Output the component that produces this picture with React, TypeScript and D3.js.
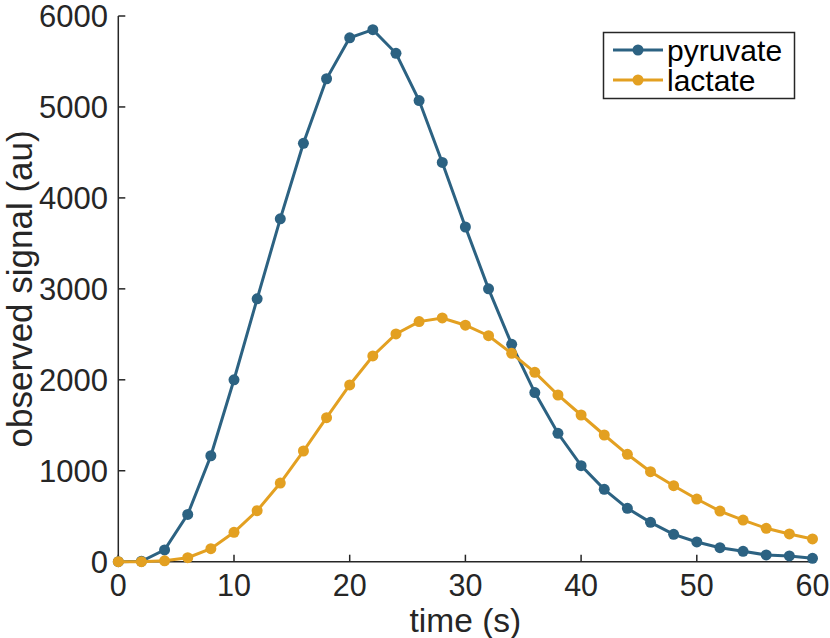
import * as d3 from "d3";

const times = d3.range(0, 61, 2);
const pyruvate = [
  0, 5, 130, 520, 1165, 2000, 2890, 3770, 4600, 5310, 5760, 5850, 5590, 5070, 4390, 3680,
  3000, 2390, 1860, 1412, 1056, 796, 587, 433, 301, 217, 154, 114, 74, 63, 37,
];
const lactate = [
  0, 0, 10, 44, 143, 323, 561, 865, 1217, 1584, 1943, 2262, 2504, 2640, 2680, 2600,
  2485, 2291, 2082, 1833, 1613, 1393, 1181, 990, 836, 689, 557, 458, 367, 305, 250,
];
const xTicks = [0, 10, 20, 30, 40, 50, 60];
const yTicks = [0, 1000, 2000, 3000, 4000, 5000, 6000];

const series = [
  { name: "pyruvate", values: pyruvate, color: "#2c6282" },
  { name: "lactate", values: lactate, color: "#e3a021" },
];

const W = 830;
const H = 638;
const m = { left: 118.3, right: 17.5, top: 16, bottom: 76.3 };
const ink = "#262626";
const font = "'Liberation Sans', Arial, Helvetica, sans-serif";

export default function App() {
  const x = d3.scaleLinear().domain([0, 60]).range([m.left, W - m.right]);
  const y = d3.scaleLinear().domain([0, 6000]).range([H - m.bottom, m.top]);
  const line = d3
    .line<number>()
    .x((_d, i) => x(times[i]))
    .y((d) => y(d));

  const x0 = x(0);
  const y0 = y(0);

  return (
    <svg
      width={W}
      height={H}
      style={{ position: "absolute", left: 0, top: 0, background: "#fff" }}
      fontFamily={font}
    >
      {/* axes */}
      <line x1={x0} x2={x(60)} y1={y0} y2={y0} stroke={ink} strokeWidth={1.5} />
      <line x1={x0} x2={x0} y1={y0} y2={y(6000)} stroke={ink} strokeWidth={1.5} />
      {xTicks.map((t) => (
        <g key={"x" + t}>
          <line x1={x(t)} x2={x(t)} y1={y0} y2={y0 - 7} stroke={ink} strokeWidth={1.5} />
          <text x={x(t)} y={596} fontSize={30.5} fill={ink} textAnchor="middle">
            {t}
          </text>
        </g>
      ))}
      {yTicks.map((t) => (
        <g key={"y" + t}>
          <line x1={x0} x2={x0 + 7} y1={y(t)} y2={y(t)} stroke={ink} strokeWidth={1.5} />
          <text x={108} y={y(t)} dy="0.36em" fontSize={31} fill={ink} textAnchor="end">
            {t}
          </text>
        </g>
      ))}
      <text x={(x0 + x(60)) / 2} y={632} fontSize={33.5} fill={ink} textAnchor="middle">
        time (s)
      </text>
      <text
        transform={`translate(32,${(y0 + y(6000)) / 2}) rotate(-90)`}
        fontSize={35}
        fill={ink}
        textAnchor="middle"
      >
        observed signal (au)
      </text>

      {/* series */}
      {series.map((s) => (
        <g key={s.name}>
          <path d={line(s.values) ?? ""} fill="none" stroke={s.color} strokeWidth={3} />
          {s.values.map((v, i) => (
            <circle key={i} cx={x(times[i])} cy={y(v)} r={5.5} fill={s.color} />
          ))}
        </g>
      ))}

      {/* legend */}
      <rect x={603.5} y={32.5} width={191} height={66} fill="#fff" stroke={ink} strokeWidth={1.5} />
      {series.map((s, i) => {
        const ly = 50 + i * 30;
        return (
          <g key={"leg" + s.name}>
            <line x1={613} x2={663} y1={ly} y2={ly} stroke={s.color} strokeWidth={3} />
            <circle cx={638} cy={ly} r={5.5} fill={s.color} />
            <text x={667} y={ly} dy="0.36em" fontSize={30} fill="#000">
              {s.name}
            </text>
          </g>
        );
      })}
    </svg>
  );
}
